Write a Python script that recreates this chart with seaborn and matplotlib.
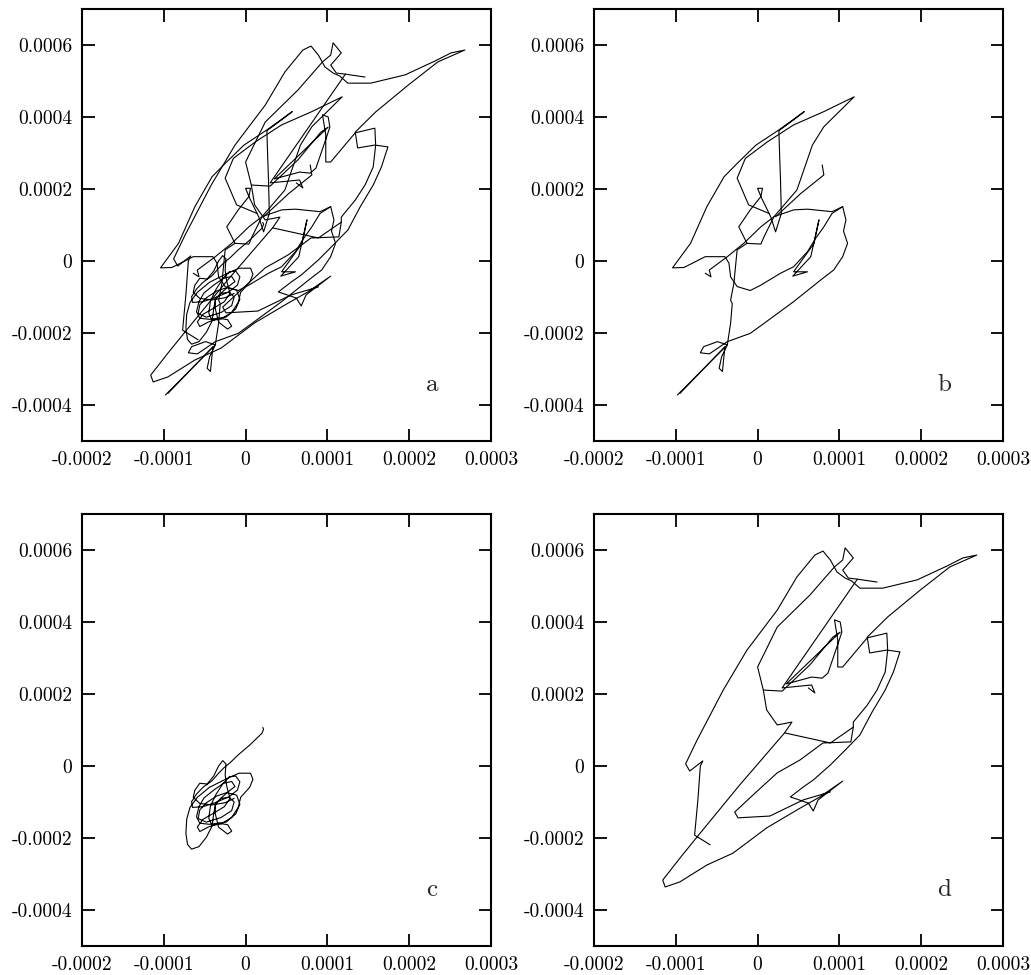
import matplotlib
matplotlib.use("Agg")
import numpy as np
import pandas as pd
import seaborn as sns
import matplotlib.pyplot as plt

# All trajectory coordinates are given in units of 1e-4
UNIT = 1e-4

# ---- segment "c": tight spiral around the origin ----
c_x = [0.21, 0.22, 0.20, 0.05, -0.09, -0.19, -0.26, -0.33, -0.41, -0.52, -0.60, -0.66,
       -0.65, -0.52, -0.35, -0.20, -0.10, -0.07, -0.12, -0.20, -0.28, -0.36, -0.43, -0.45,
       -0.41, -0.30, -0.17, -0.09, -0.06, 0.05, 0.09, 0.06, -0.08, -0.19, -0.30, -0.44,
       -0.59, -0.68, -0.72, -0.73, -0.71, -0.66, -0.57, -0.48, -0.41, -0.39, -0.37, -0.30,
       -0.21, -0.13, -0.17, -0.27, -0.39, -0.51, -0.57, -0.60, -0.56, -0.44, -0.24, -0.12,
       -0.07, -0.11, -0.23, -0.35, -0.48, -0.56, -0.58, -0.48, -0.30, -0.17, -0.14, -0.20,
       -0.30, -0.37, -0.37, -0.33, -0.22, -0.17, -0.22, -0.33, -0.46, -0.56, -0.59, -0.52,
       -0.39, -0.26, -0.19, -0.23, -0.25, -0.24, -0.28, -0.33, -0.39, -0.47, -0.56, -0.62,
       -0.64, -0.56, -0.41, -0.25, -0.14]
c_y = [1.07, 1.02, 0.91, 0.58, 0.31, 0.09, -0.04, -0.20, -0.41, -0.59, -0.78, -0.99,
       -1.15, -1.13, -1.00, -0.85, -0.67, -0.44, -0.28, -0.30, -0.50, -0.78, -1.11, -1.45,
       -1.65, -1.61, -1.43, -1.15, -0.87, -0.59, -0.37, -0.20, -0.20, -0.31, -0.43, -0.59,
       -0.87, -1.15, -1.48, -1.87, -2.18, -2.31, -2.24, -1.98, -1.67, -1.33, -1.08, -0.89,
       -0.71, -0.57, -0.43, -0.48, -0.67, -0.89, -1.13, -1.41, -1.59, -1.62, -1.56, -1.33,
       -1.06, -0.81, -0.74, -0.83, -1.02, -1.22, -1.46, -1.56, -1.43, -1.24, -1.00, -0.87,
       -0.90, -1.04, -1.33, -1.70, -1.89, -1.81, -1.63, -1.59, -1.70, -1.82, -1.69, -1.48,
       -1.31, -1.13, -0.90, -0.57, -0.25, 0.06, 0.15, 0.00, -0.28, -0.50, -0.48, -0.67,
       -0.87, -1.04, -1.08, -1.02, -0.90]

# ---- segment "b": middle part of the orbit ----
b_stem_x = [-0.98, -0.37, -0.33, -0.31, -0.33, -0.29, -0.25, -0.13]
b_stem_y = [-3.72, -2.33, -1.73, -1.18, -1.09, -0.62, 0.31, 0.49]

b_loop_x = [-0.95, -0.40, -0.43, -0.47, -0.44, -0.37, -0.49, -0.66, -0.70, -0.59, -0.37, -0.09,
            0.08, 0.44, 0.77, 0.93, 1.04, 1.10, 1.05, 1.08, 1.04, 0.91, 0.81, 0.71, 0.61,
            0.44, 0.28, 0.04, -0.09, -0.25, -0.33, -0.35, -0.40, -0.64, -0.90, -1.04, -0.82,
            -0.62, -0.41, -0.25, -0.02, 0.26, 0.57, 0.44, 0.26, 0.27, 0.28, 0.29, 0.22, 0.16, 0.04]
b_loop_y = [-3.68, -2.38, -3.07, -2.98, -2.66, -2.33, -2.24, -2.38, -2.55, -2.58, -2.24, -2.01,
            -1.73, -1.13, -0.53, -0.25, 0.12, 0.49, 0.83, 1.14, 1.51, 1.32, 0.95, 0.63, 0.26,
            -0.16, -0.34, -0.67, -0.82, -0.71, -0.44, -0.06, 0.12, 0.12, -0.18, -0.19, 0.49,
            1.51, 2.34, 2.71, 3.22, 3.64, 4.15, 3.92, 3.62, 2.90, 2.25, 1.32, 0.81, 1.23, 1.79]

b_mid_x = [0.04, 0.00, 0.06, 0.04, -0.09, -0.23, -0.13, 0.04, 0.08, 0.20, 0.44, 0.61, 0.91, 1.04]
b_mid_y = [1.79, 2.02, 2.02, 1.79, 1.42, 0.95, 0.49, 0.47, 0.68, 1.23, 1.42, 1.44, 1.37, 1.51]

b_diag_x = [-0.64, -0.57, -0.59, -0.37, -0.17, 0.04, 0.20, 0.48, 0.67, 0.81, 1.18, 0.81,
            0.44, 0.12, -0.15, -0.25, -0.11, 0.14]
b_diag_y = [-0.34, -0.44, -0.25, 0.12, 0.49, 0.95, 1.23, 1.97, 3.22, 3.73, 4.56, 4.15,
            3.78, 3.31, 2.85, 2.30, 1.56, 1.32]

b_spike_x = [0.79, 0.81, 0.53, 0.22]
b_spike_y = [2.67, 2.39, 1.88, 1.23]

b_hook_x = [0.75, 0.69, 0.44, 0.61, 0.43, 0.65, 0.75]
b_hook_y = [1.14, 0.49, -0.30, -0.30, -0.42, 0.12, 1.14]

# ---- segment "d": large excursion ----
d_outer_x = [-0.58, -0.77, -0.73, -0.70, -0.67, -0.83, -0.88, -0.74, -0.42, -0.13, 0.24, 0.48,
             0.70, 0.80, 0.89, 0.97, 1.07, 1.15, 1.25, 1.53, 1.95, 2.32, 2.51, 2.68,
             2.35, 1.99, 1.59, 1.34, 1.37, 1.58, 1.74, 1.66, 1.56, 1.40, 1.25, 1.07, 0.89,
             0.68, 0.56, 0.40, 0.48, 0.62, 0.68, 0.74, 1.04, 0.76, 0.52, 0.11, -0.30, -0.62,
             -0.95, -1.13, -1.16, -0.95, -0.74, -0.22, 0.33, 0.89, 1.17, 1.14, 0.80, 0.52,
             0.24, -0.03, -0.28, -0.24, 0.15, 0.56, 0.89]
d_outer_y = [-2.19, -1.92, -0.94, 0.00, 0.14, -0.14, 0.06, 0.72, 2.11, 3.22, 4.33, 5.25,
             5.86, 5.97, 5.72, 5.39, 5.22, 5.14, 4.94, 4.94, 5.17, 5.56, 5.78, 5.86,
             5.53, 4.89, 4.14, 3.58, 3.14, 3.22, 3.17, 2.61, 2.11, 1.50, 0.86, 0.44, 0.03,
             -0.39, -0.58, -0.86, -0.92, -1.03, -1.25, -0.94, -0.42, -0.86, -1.17, -1.72, -2.42,
             -2.75, -3.22, -3.36, -3.17, -2.56, -1.97, -0.53, 0.92, 0.64, 1.08, 0.67, 0.64,
             0.17, -0.19, -0.75, -1.28, -1.44, -1.39, -0.94, -0.72]

d_inner_x = [1.46, 1.22, 1.11, 1.04, 1.17, 1.07, 1.04, 0.94, 0.64, 0.24, 0.00, 0.07, 0.30,
             0.64, 0.92, 1.01, 0.35, 0.66, 0.79, 0.86, 0.97, 1.03, 1.01, 0.94, 0.98, 0.98,
             1.04, 1.34, 1.58, 1.59, 1.56, 1.46, 1.34, 1.17, 1.17]
d_inner_y = [5.11, 5.19, 5.22, 5.44, 5.78, 6.06, 5.72, 5.53, 4.75, 3.86, 2.75, 2.11, 2.08,
             2.81, 3.58, 3.72, 2.28, 2.47, 2.44, 2.58, 3.31, 3.72, 4.00, 4.06, 3.50, 2.75,
             2.75, 3.56, 3.69, 3.22, 2.61, 2.11, 1.69, 1.22, 1.08]

d_diag_x = [0.62, 0.70, 0.66, 0.30, 1.22]
d_diag_y = [2.17, 2.03, 2.25, 2.17, 5.19]

d_hook_x = [0.07, 0.11, 0.24, 0.42, 0.33]
d_hook_y = [2.11, 1.56, 1.14, 1.22, 0.92]

# axis ticks
x_ticks = [-2, -1, 0, 1, 2, 3]
x_ticklabels = ["-0.0002", "-0.0001", "0", "0.0001", "0.0002", "0.0003"]
y_ticks = [-4, -2, 0, 2, 4, 6]
y_ticklabels = ["-0.0004", "-0.0002", "0", "0.0002", "0.0004", "0.0006"]

seg_b = [(b_stem_x, b_stem_y), (b_loop_x, b_loop_y), (b_mid_x, b_mid_y),
         (b_diag_x, b_diag_y), (b_spike_x, b_spike_y), (b_hook_x, b_hook_y)]
seg_c = [(c_x, c_y)]
seg_d = [(d_outer_x, d_outer_y), (d_inner_x, d_inner_y), (d_diag_x, d_diag_y),
         (d_hook_x, d_hook_y)]


def to_frame(segments):
    rows = []
    for k, (xs, ys) in enumerate(segments):
        for i, (xv, yv) in enumerate(zip(xs, ys)):
            rows.append({"x": xv * UNIT, "y": yv * UNIT, "seg": k, "i": i})
    return pd.DataFrame(rows)


sns.set_theme(style="ticks")
plt.rcParams["font.family"] = ["cmr10", "DejaVu Serif"]
plt.rcParams["axes.unicode_minus"] = False

fig = plt.figure(figsize=(10.31, 9.75), dpi=100)
W, H = 1031, 975


def axes_at(left, top, right, bottom):
    return fig.add_axes([left / W, 1 - bottom / H, (right - left) / W, (bottom - top) / H])


panels = [
    (axes_at(82, 9, 491, 441), seg_b + seg_c + seg_d, "a"),
    (axes_at(594, 9, 1003, 441), seg_b, "b"),
    (axes_at(82, 514, 491, 946), seg_c, "c"),
    (axes_at(594, 514, 1003, 946), seg_d, "d"),
]

for ax, segs, tag in panels:
    df = to_frame(segs)
    sns.lineplot(data=df, x="x", y="y", units="seg", estimator=None, sort=False,
                 color="black", linewidth=0.8, ax=ax, legend=False)
    ax.set_xlim(-2 * UNIT, 3 * UNIT)
    ax.set_ylim(-5 * UNIT, 7 * UNIT)
    ax.set_xticks([t * UNIT for t in x_ticks])
    ax.set_xticklabels(x_ticklabels)
    ax.set_yticks([t * UNIT for t in y_ticks])
    ax.set_yticklabels(y_ticklabels)
    ax.set_xlabel("")
    ax.set_ylabel("")
    ax.tick_params(direction="in", length=9, width=1.3, top=True, right=True,
                   labelsize=14, pad=7, colors="black")
    for sp in ax.spines.values():
        sp.set_linewidth(1.5)
        sp.set_color("black")
    ax.text(0.856, 0.13, tag, transform=ax.transAxes, fontsize=18,
            ha="center", va="center")

fig.savefig("out.png", dpi=100)
